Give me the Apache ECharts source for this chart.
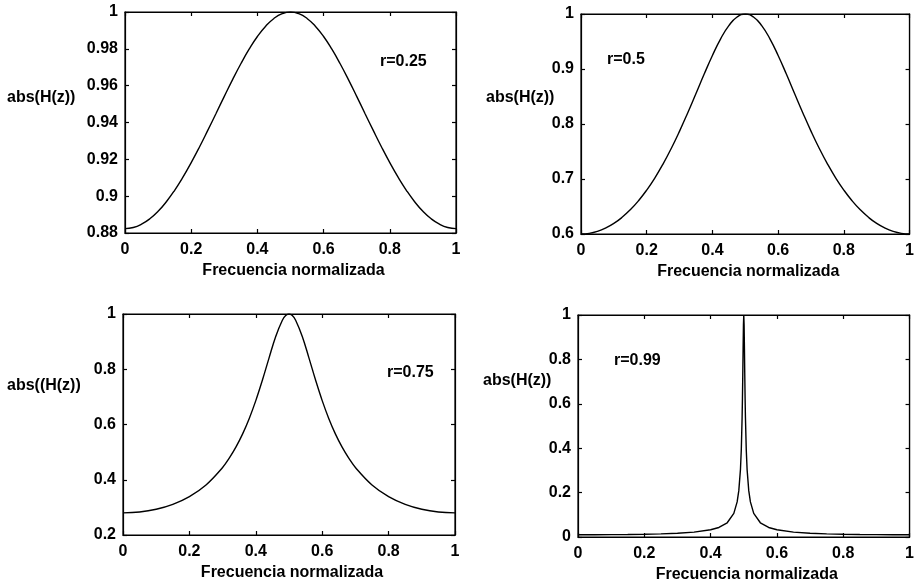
<!DOCTYPE html>
<html>
<head>
<meta charset="utf-8">
<script src="https://cdn.jsdelivr.net/npm/echarts@6/dist/echarts.min.js"></script>
<style>
html,body{margin:0;padding:0;background:#fff;}
#chart{width:917px;height:586px;}
</style>
</head>
<body>
<div id="chart"></div>
<script>
// ---- data ----
const freqA = [0,0.025,0.05,0.075,0.1,0.125,0.15,0.175,0.2,0.225,0.25,0.275,0.3,0.325,0.35,0.375,0.4,0.425,0.45,0.475,0.5,0.525,0.55,0.575,0.6,0.625,0.65,0.675,0.7,0.725,0.75,0.775,0.8,0.825,0.85,0.875,0.9,0.925,0.95,0.975,1];
const magR025 = [0.8824,0.8830,0.8848,0.8877,0.8918,0.8970,0.9032,0.9103,0.9182,0.9267,0.9357,0.9449,0.9542,0.9633,0.9719,0.9798,0.9867,0.9923,0.9965,0.9991,1.0000,0.9991,0.9965,0.9923,0.9867,0.9798,0.9719,0.9633,0.9542,0.9449,0.9357,0.9267,0.9182,0.9103,0.9032,0.8970,0.8918,0.8877,0.8848,0.8830,0.8824];
const magR050 = [0.6000,0.6012,0.6048,0.6108,0.6192,0.6303,0.6440,0.6605,0.6799,0.7022,0.7276,0.7560,0.7871,0.8205,0.8555,0.8908,0.9246,0.9548,0.9789,0.9946,1.0000,0.9946,0.9789,0.9548,0.9246,0.8908,0.8555,0.8205,0.7871,0.7560,0.7276,0.7022,0.6799,0.6605,0.6440,0.6303,0.6192,0.6108,0.6048,0.6012,0.6000];
const freqC = [0,0.05,0.1,0.15,0.2,0.25,0.3,0.32,0.34,0.36,0.38,0.4,0.42,0.44,0.46,0.48,0.49,0.5,0.51,0.52,0.54,0.56,0.58,0.6,0.62,0.64,0.66,0.68,0.7,0.75,0.8,0.85,0.9,0.95,1];
const magR075 = [0.2800,0.2832,0.2932,0.3111,0.3392,0.3813,0.4445,0.4781,0.5179,0.5651,0.6210,0.6864,0.7609,0.8413,0.9188,0.9776,0.9943,1.0000,0.9943,0.9776,0.9188,0.8413,0.7609,0.6864,0.6210,0.5651,0.5179,0.4781,0.4445,0.3813,0.3392,0.3111,0.2932,0.2832,0.2800];
const freqD = [0,0.05,0.1,0.15,0.2,0.25,0.3,0.35,0.4,0.425,0.45,0.47,0.48,0.485,0.49,0.4925,0.495,0.496,0.497,0.498,0.499,0.5,0.501,0.502,0.503,0.504,0.505,0.5075,0.51,0.515,0.52,0.53,0.55,0.575,0.6,0.65,0.7,0.75,0.8,0.85,0.9,0.95,1];
const magR099 = [0.0101,0.0102,0.0106,0.0113,0.0124,0.0142,0.0171,0.0221,0.0325,0.0430,0.0641,0.1062,0.1581,0.2087,0.3048,0.3924,0.5390,0.6246,0.7295,0.8479,0.9545,1.0000,0.9545,0.8479,0.7295,0.6246,0.5390,0.3924,0.3048,0.2087,0.1581,0.1062,0.0641,0.0430,0.0325,0.0221,0.0171,0.0142,0.0124,0.0113,0.0106,0.0102,0.0101];

const xLabel = 'Frecuencia normalizada';
const yLabels = ['abs(H(z))','abs(H(z))','abs((H(z))','abs(H(z))'];
const rLabels = ['r=0.25','r=0.5','r=0.75','r=0.99'];
const yMin = [0.88, 0.6, 0.2, 0];
const yMax = [1, 1, 1, 1];
const yStep = [0.02, 0.1, 0.2, 0.2];
const xMin = 0, xMax = 1, xStep = 0.2;

// ---- layout ----
const grids = [
  {left:125, top:12, width:331, height:221},
  {left:581, top:14, width:332, height:220},
  {left:123, top:314, width:332, height:221},
  {left:578, top:315, width:334, height:222}
].map(g => Object.assign({show:true, borderColor:'#000000', borderWidth:1.2, backgroundColor:'rgba(0,0,0,0)'}, g));
const yLabelPos = [[7,98],[486,98],[7,386],[483,381]];
const rLabelPos = [[380,62],[607,60],[387,373],[614,361]];

const FONT = '"Liberation Sans", Arial, Helvetica, sans-serif';
const txt = {color:'#000', fontSize:16, fontWeight:'bold', fontFamily:FONT};
function ls() { return {color:'#000000', width:1.2, type:'solid', opacity:1}; }

const panels = [
  {x:freqA, y:magR025, smooth:true},
  {x:freqA, y:magR050, smooth:true},
  {x:freqC, y:magR075, smooth:0.4},
  {x:freqD, y:magR099, smooth:false}
];

const xAxes = [], yAxes = [], series = [], graphic = [];
panels.forEach((p, i) => {
  xAxes.push({
    type:'value', gridIndex:i, position:'bottom', min:xMin, max:xMax, interval:xStep,
    name:xLabel, nameLocation:'middle', nameGap:30, nameTextStyle:Object.assign({padding:[0,0,0,6]}, txt),
    axisLine:{show:true, onZero:false, lineStyle:ls()},
    axisTick:{show:true, inside:true, length:4, lineStyle:ls()},
    axisLabel:Object.assign({show:true, margin:9}, txt),
    splitLine:{show:false}
  });
  xAxes.push({
    type:'value', gridIndex:i, position:'top', min:xMin, max:xMax, interval:xStep,
    axisLine:{show:true, onZero:false, lineStyle:ls()},
    axisTick:{show:true, inside:true, length:4, lineStyle:ls()},
    axisLabel:{show:false}, splitLine:{show:false}
  });
  yAxes.push({
    type:'value', gridIndex:i, position:'left', min:yMin[i], max:yMax[i], interval:yStep[i],
    axisLine:{show:true, onZero:false, lineStyle:ls()},
    axisTick:{show:true, inside:true, length:4, lineStyle:ls()},
    axisLabel:Object.assign({show:true, margin:7, padding:[2,0,0,0]}, txt),
    splitLine:{show:false}
  });
  yAxes.push({
    type:'value', gridIndex:i, position:'right', min:yMin[i], max:yMax[i], interval:yStep[i],
    axisLine:{show:true, onZero:false, lineStyle:ls()},
    axisTick:{show:true, inside:true, length:4, lineStyle:ls()},
    axisLabel:{show:false}, splitLine:{show:false}
  });
  series.push({
    type:'line', xAxisIndex:2*i, yAxisIndex:2*i, showSymbol:false, smooth:p.smooth,
    lineStyle:{color:'#000', width:1.4}, animation:false,
    data:p.x.map((f, k) => [f, p.y[k]])
  });
  series.push({
    type:'line', xAxisIndex:2*i+1, yAxisIndex:2*i+1, showSymbol:false, silent:true, data:[]
  });
  graphic.push({
    type:'text', x:yLabelPos[i][0], y:yLabelPos[i][1],
    style:{text:yLabels[i], fill:'#000', font:'bold 16px ' + FONT, align:'left', verticalAlign:'middle'}
  });
  graphic.push({
    type:'text', x:rLabelPos[i][0], y:rLabelPos[i][1],
    style:{text:rLabels[i], fill:'#000', font:'bold 16px ' + FONT, align:'left', verticalAlign:'middle'}
  });
});

const chart = echarts.init(document.getElementById('chart'), null, {renderer:'canvas'});
chart.setOption({
  backgroundColor:'#fff',
  animation:false,
  grid:grids,
  xAxis:xAxes,
  yAxis:yAxes,
  series:series,
  graphic:graphic
});
</script>
</body>
</html>
